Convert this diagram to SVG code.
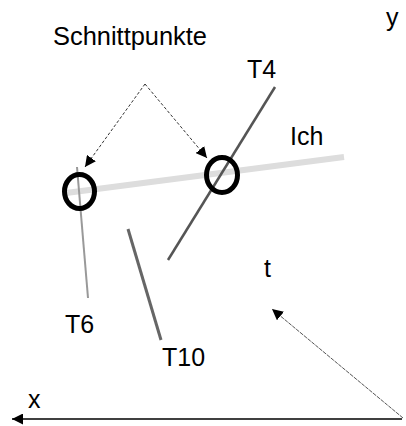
<svg xmlns="http://www.w3.org/2000/svg" width="406" height="426" viewBox="0 0 406 426">
<style>
text{font-family:"Liberation Sans",Arial,sans-serif;font-size:25px;fill:#000}
.ring{fill:none;stroke:#000;stroke-width:5}
.dash{fill:none;stroke:#333;stroke-width:1;stroke-dasharray:3,2}
</style>
<defs>
<marker id="ah" viewBox="0 0 10 10" refX="10" refY="5" markerWidth="11" markerHeight="11" markerUnits="userSpaceOnUse" orient="auto">
<path d="M0,0 L10,5 L0,10 z" fill="#000"/>
</marker>
</defs>
<rect width="406" height="426" fill="#fff"/>
<g id="lines">
<line id="ich-line" x1="66" y1="193" x2="344" y2="157" stroke="#ddd" stroke-width="6"/>
<line id="t6-line" x1="77" y1="167" x2="88" y2="298" stroke="#999" stroke-width="2"/>
<line id="t10-line" x1="128" y1="229" x2="161" y2="340" stroke="#666" stroke-width="3"/>
<line id="t4-line" x1="275" y1="87" x2="168" y2="260" stroke="#555" stroke-width="2.5"/>
</g>
<g id="rings">
<ellipse id="ring-left" class="ring" cx="79.5" cy="191.5" rx="15" ry="17"/>
<ellipse id="ring-right" class="ring" cx="222" cy="175" rx="15.5" ry="17.5"/>
</g>
<g id="connectors">
<line class="dash" x1="145" y1="84" x2="85" y2="167" marker-end="url(#ah)"/>
<line class="dash" x1="145" y1="84" x2="207" y2="158" marker-end="url(#ah)"/>
<line x1="403" y1="418" x2="272" y2="309" stroke="#555" stroke-width="1" stroke-dasharray="4,1" marker-end="url(#ah)"/>
<line x1="402" y1="419" x2="12" y2="419" stroke="#000" stroke-width="1.5" marker-end="url(#ah)"/>
</g>
<g id="labels">
<text x="53" y="45" textLength="154" lengthAdjust="spacingAndGlyphs">Schnittpunkte</text>
<text x="386" y="26">y</text>
<text x="247" y="78">T4</text>
<text x="290" y="145">Ich</text>
<text x="65" y="333">T6</text>
<text x="162" y="366">T10</text>
<text x="264" y="277">t</text>
<text x="28" y="408">x</text>
</g>
</svg>
